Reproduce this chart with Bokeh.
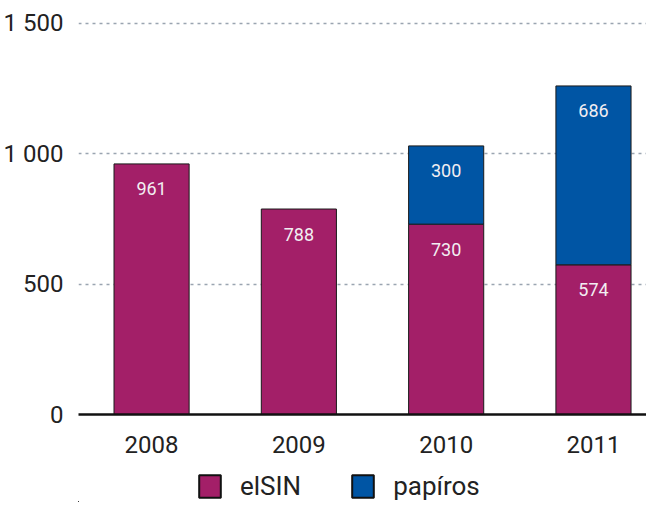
from bokeh.plotting import figure
from bokeh.layouts import column
from bokeh.models import Range1d, FixedTicker, Legend, LegendItem, ColumnDataSource
from bokeh.core.properties import value
from bokeh.embed import file_html
from bokeh.resources import INLINE

years = ["2008", "2009", "2010", "2011"]
elsin = [961, 788, 730, 574]
papiros = [0, 0, 300, 686]
series_names = ["elSIN", "papíros"]
y_ticks = [0, 500, 1000, 1500]
y_tick_labels = ["0", "500", "1 000", "1 500"]

MAGENTA = "#a31f68"
BLUE = "#0055a4"
FONT = "Roboto"
TEXT = "#222222"

x = list(range(len(years)))

p = figure(width=646, height=462, output_backend="svg", toolbar_location=None,
           x_range=Range1d(-0.496, 3.36), y_range=Range1d(0, 1557),
           min_border_left=78, min_border_right=0, min_border_top=8, min_border_bottom=48)
p.outline_line_color = None
p.background_fill_color = "white"
p.border_fill_color = "white"

# elSIN bars
src_e = ColumnDataSource(dict(x=x, top=elsin, bottom=[0] * len(x),
                              lbl=[str(v) for v in elsin]))
p.vbar(x="x", top="top", bottom="bottom", width=0.51, source=src_e,
       fill_color=MAGENTA, line_color="#1a1a1a", line_width=1)

# papíros bars stacked on top (only where non-zero)
px, ptop, pbot, plbl = [], [], [], []
for i, (e, v) in enumerate(zip(elsin, papiros)):
    if v > 0:
        px.append(i)
        pbot.append(e)
        ptop.append(e + v)
        plbl.append(str(v))
src_p = ColumnDataSource(dict(x=px, top=ptop, bottom=pbot, lbl=plbl))
p.vbar(x="x", top="top", bottom="bottom", width=0.51, source=src_p,
       fill_color=BLUE, line_color="#1a1a1a", line_width=1)

for src in (src_e, src_p):
    p.text(x="x", y="top", text="lbl", source=src, text_align="center",
           text_baseline="middle", y_offset=25, text_color="#f2eef2",
           text_font=value(FONT), text_font_size="18px")

# axes
p.xaxis.ticker = FixedTicker(ticks=x)
p.xaxis.major_label_overrides = {i: y for i, y in enumerate(years)}
p.xaxis.major_tick_line_color = None
p.xaxis.minor_tick_line_color = None
p.xaxis.axis_line_width = 2.5
p.xaxis.axis_line_color = "#111111"
p.xaxis.major_label_standoff = 15
p.xaxis.major_label_text_font = FONT
p.xaxis.major_label_text_font_size = "24px"
p.xaxis.major_label_text_color = TEXT

p.yaxis.ticker = FixedTicker(ticks=y_ticks)
p.yaxis.major_label_overrides = {t: l for t, l in zip(y_ticks, y_tick_labels)}
p.yaxis.axis_line_color = None
p.yaxis.major_tick_line_color = None
p.yaxis.minor_tick_line_color = None
p.yaxis.major_label_standoff = 9
p.yaxis.major_label_text_font = FONT
p.yaxis.major_label_text_font_size = "24px"
p.yaxis.major_label_text_color = TEXT

p.xgrid.grid_line_color = None
p.ygrid.ticker = FixedTicker(ticks=y_ticks[1:])
p.ygrid.grid_line_color = "#9aa5b1"
p.ygrid.grid_line_dash = "3 4"
p.ygrid.grid_line_width = 1.5

# legend strip below the chart (its bars lie far outside the visible range)
lg = figure(width=646, height=40, output_backend="svg", toolbar_location=None,
            x_range=Range1d(50, 51), y_range=Range1d(5000, 6000),
            min_border_left=0, min_border_right=0, min_border_top=0, min_border_bottom=0)
lg.axis.visible = False
lg.grid.visible = False
lg.outline_line_color = None
items = []
for name, vals, col in zip(series_names, [elsin, papiros], [MAGENTA, BLUE]):
    r = lg.vbar(x=x, top=vals, width=0.5, fill_color=col, line_color="#111111", line_width=2)
    items.append(LegendItem(label=name, renderers=[r]))
legend = Legend(items=items, orientation="horizontal", location=(118, 1),
                glyph_width=27, glyph_height=28, label_text_font=FONT,
                label_text_font_size="26px", label_text_color=TEXT,
                spacing=48, label_standoff=17, padding=0, margin=0,
                border_line_color=None, background_fill_alpha=0)
lg.add_layout(legend, "center")

open("out.html", "w").write(file_html(column(p, lg, spacing=0), INLINE))
